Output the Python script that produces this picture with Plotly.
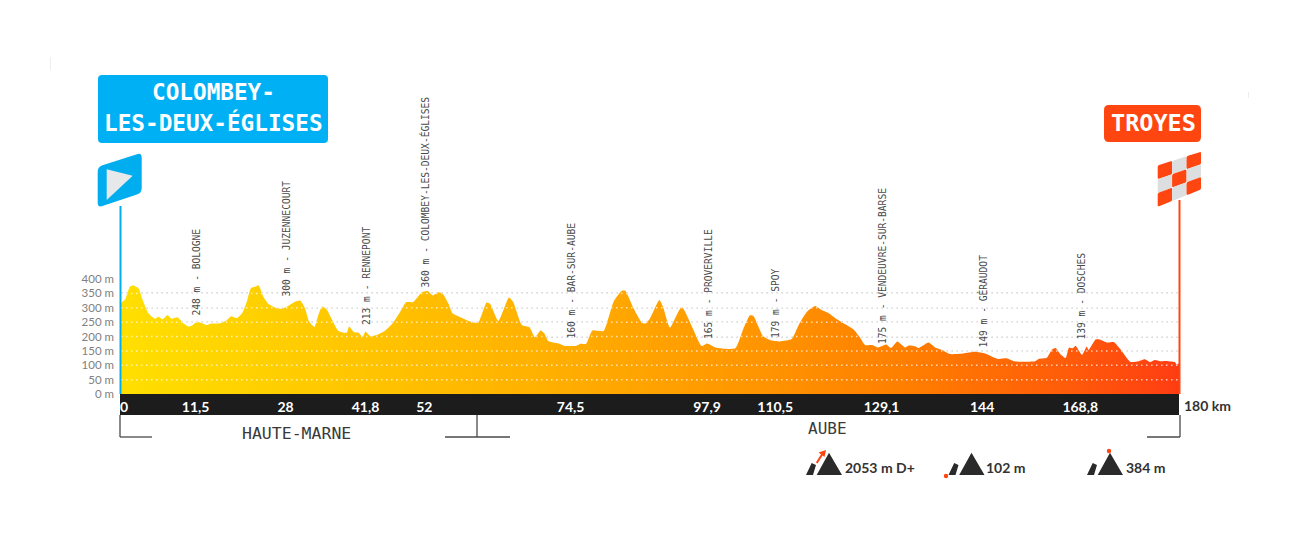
import plotly.graph_objects as go

# ---------- data ----------
km = [0,0.7,1.5,2,2.95,3.8,4.65,5.8,6.35,7.1,7.9,8.6,9.6,10.6,11.45,12,12.75,13.55,14.6,15.4,16.8,17.8,18.7,19.7,20.6,21.4,22.1,22.8,23.4,24.2,25,26.2,27.3,28.5,29.6,30.5,31.3,32,32.9,33.4,34.2,35,35.8,37,38.4,38.8,39.6,40.4,41.1,41.6,42.4,43.5,44.9,46.3,47.5,48.5,49.7,51.2,52.2,53,54,54.7,55.7,56.4,58.2,59.7,60.8,62.2,62.8,64.2,66,66.7,68.2,69.5,70.4,71.4,72,72.7,74.7,75.5,77.5,78.2,79.1,80.2,82.1,83.8,85.2,85.8,87.2,88.6,89.2,90,91.6,92.2,93.4,95.4,98.8,99.7,101.3,104.5,105.9,107,107.6,109.2,110.4,112.1,114.1,115.3,116.7,118.1,119.2,120.4,121.8,124.6,125.7,126.6,127.9,128.8,130.2,131,132.1,133.4,134,135.1,135.7,137.4,138.5,139.7,141,143.3,145.3,147,148.2,149.3,150.7,151.9,153.5,155.5,156.1,157.5,158.4,159,159.8,160.7,161.3,161.9,162.4,163.5,164.3,164.6,165.8,166.5,167.8,168.9,169.9,171.7,173.1,174.2,175.1,175.9,176.8,177.6,179.3,179.6,180]
elevation = [318,329,373,377,368,321,281,262,269,260,275,262,267,246,235,237,250,248,240,245,246,254,270,264,281,321,368,373,378,339,315,301,296,307,321,325,298,252,233,263,304,294,263,219,213,235,216,213,198,217,201,205,220,248,286,319,320,354,358,343,354,350,315,281,263,250,249,318,313,254,336,321,240,232,197,221,211,184,174,167,168,175,174,221,219,321,359,359,298,248,245,263,327,304,231,303,167,176,161,159,228,274,271,202,188,183,191,240,286,306,292,281,260,225,197,170,170,162,172,160,183,162,169,166,160,179,162,153,139,141,147,141,130,122,124,114,112,114,122,126,155,160,139,125,162,159,168,136,165,153,190,190,179,181,159,112,114,121,111,118,114,115,111,102,107]

y_ticks = [0,50,100,150,200,250,300,350,400]
y_labels = ["0 m","50 m","100 m","150 m","200 m","250 m","300 m","350 m","400 m"]
km_labels = ["0","11,5","28","41,8","52","74,5","97,9","110,5","129,1","144","168,8"]
waypoints = ["248 m - BOLOGNE","300 m - JUZENNECOURT","213 m - RENNEPONT","360 m - COLOMBEY-LES-DEUX-ÉGLISES",
             "160 m - BAR-SUR-AUBE","165 m - PROVERVILLE","179 m - SPOY","175 m - VENDEUVRE-SUR-BARSE",
             "149 m - GÉRAUDOT","139 m - DOSCHES"]

# ---------- layout constants ----------
W, H = 1300, 544
X0, X1, Y0, Y400 = 121, 1179, 394, 279
km_label_pos = [0.5,12.7,28,41.6,51.6,76.5,99.7,111.3,129.4,146.5,163.2]
way_px = [(196,316),(285.5,297),(366,325),(424,287),(570.5,339),(708,339),(775,338),(882,344),(982,348),(1081,340)]

def px(x, y):
    return x / W, 1 - y / H

def rpath(pts, r=4):
    """Rounded polygon path in paper coordinates from pixel corners."""
    n, d = len(pts), ""
    for i in range(n):
        p, c, q = pts[i-1], pts[i], pts[(i+1) % n]
        def toward(a, b):
            L = ((b[0]-a[0])**2 + (b[1]-a[1])**2)**0.5
            t = min(r / L, 0.5)
            return a[0] + (b[0]-a[0])*t, a[1] + (b[1]-a[1])*t
        s, e = toward(c, p), toward(c, q)
        ps, pc, pe = px(*s), px(*c), px(*e)
        d += f"{'M' if i == 0 else 'L'}{ps[0]:.5f},{ps[1]:.5f} Q{pc[0]:.5f},{pc[1]:.5f} {pe[0]:.5f},{pe[1]:.5f} "
    return d + "Z"

def poly(pts, color, r=0, layer="above"):
    return dict(type="path", xref="paper", yref="paper", path=rpath(pts, r) if r else rpath(pts, 0.01),
                fillcolor=color, line=dict(width=0), layer=layer)

def seg(x0, y0, x1, y1, color, width):
    a, b = px(x0, y0), px(x1, y1)
    return dict(type="line", xref="paper", yref="paper", x0=a[0], y0=a[1], x1=b[0], y1=b[1],
                line=dict(color=color, width=width), layer="above")

BLUE, RED, DARK, GREY = "#00AEEF", "#FF4510", "#1C1C1C", "#4A4A4A"
shapes = []
# black distance band (below the tick labels)
shapes.append(poly([(120,394),(1179,394),(1179,415),(120,415)], DARK, layer="below"))
# white dots on top of the filled area
for v in y_ticks[1:]:
    shapes.append(dict(type="line", xref="x", yref="y", x0=0, x1=180, y0=v, y1=v, layer="above",
                       line=dict(color="rgba(255,255,255,0.7)", width=1.5, dash="1.5px,3.5px")))
# start and finish posts
shapes.append(seg(120.5,206,120.5,394,BLUE,2))
shapes.append(seg(1179.5,200,1179.5,394,RED,2))
# department brackets
for s in [(120,415,120,437),(120,437,152,437),(477,415,477,437),(445,437,510,437),(1147,437,1180,437),(1180,415,1180,437)]:
    shapes.append(seg(*s, GREY, 1.3))
# name panels
shapes.append(poly([(98,75),(328,75),(328,143),(98,143)], "#00B0F5", 4))
shapes.append(poly([(1104,105),(1201,105),(1201,142),(1104,142)], RED, 5))
# start flag
shapes.append(poly([(97.7,166.7),(141.7,152.7),(141.7,193),(97.7,207.7)], BLUE, 5))
shapes.append(poly([(106.7,169.3),(132.7,175.7),(106.7,200)], "#E6E8EA"))
# finish flag
TL, TR, BR, BL = (1157.7,165.5), (1201,151.7), (1201,189.5), (1157.7,206.7)
def mix(u, v):
    top = (TL[0]+(TR[0]-TL[0])*u, TL[1]+(TR[1]-TL[1])*u)
    bot = (BL[0]+(BR[0]-BL[0])*u, BL[1]+(BR[1]-BL[1])*u)
    return top[0]+(bot[0]-top[0])*v, top[1]+(bot[1]-top[1])*v
for r_ in range(3):
    for c_ in range(3):
        col = RED if (r_ + c_) % 2 == 0 else "#DDDEE0"
        shapes.append(poly([mix(c_/3,r_/3),mix((c_+1)/3,r_/3),mix((c_+1)/3,(r_+1)/3),mix(c_/3,(r_+1)/3)], col, 1.5))
# summary icons
def mountain(dx):
    return [poly([(dx+10.7,475),(dx+23,452.7),(dx+36,475)], "#2A2A2A"),
            poly([(dx,475),(dx+5.7,463),(dx+10,465),(dx+7,475)], "#2A2A2A")]
for dx in (806, 948.5, 1087):
    shapes += mountain(dx)
shapes.append(seg(816.7,463,823,453,RED,2))
shapes.append(poly([(826,450),(818.5,452.5),(824.5,457)], RED))
for cx, cy in ((946,476),(1109,451)):
    a, b = px(cx-2.2, cy-2.2), px(cx+2.2, cy+2.2)
    shapes.append(dict(type="circle", xref="paper", yref="paper", x0=a[0], y0=a[1], x1=b[0], y1=b[1],
                       fillcolor=RED, line=dict(width=0), layer="above"))
# faint registration marks
shapes.append(seg(50.5,57,50.5,70,"#EEEEEE",1))
shapes.append(seg(1248.5,92,1248.5,98,"#EEEEEE",1))

def label(x, y, text, size, color, family, xanchor="center", angle=0, yanchor="middle", weight=None):
    a = px(x, y)
    f = dict(size=size, color=color, family=family)
    if weight:
        f["weight"] = weight
    return dict(xref="paper", yref="paper", x=a[0], y=a[1], text=text, showarrow=False, xanchor=xanchor,
                yanchor=yanchor, textangle=angle, font=f, borderpad=0, borderwidth=0)

annos = []
MONO = "DejaVu Sans Mono"
for t, (x, y) in zip(waypoints, way_px):
    annos.append(label(x, y, t, 9.6, "#4A4A4A", MONO, angle=-90, yanchor="bottom"))
annos.append(label(213, 92, "COLOMBEY-", 22.7, "white", MONO, weight=700))
annos.append(label(213, 123, "LES-DEUX-ÉGLISES", 22.7, "white", MONO, weight=700))
annos.append(label(1153, 123, "TROYES", 23.5, "white", MONO, weight=700))
annos.append(label(296, 433, "HAUTE-MARNE", 16.5, "#3A3A3A", MONO))
annos.append(label(827, 428, "AUBE", 16, "#3A3A3A", MONO))
annos.append(label(1184, 405, "180 km", 14, "#333333", "Lato", xanchor="left", weight=700))
annos.append(label(845, 467, "2053 m D+", 14, "#333333", "Lato", xanchor="left", weight=700))
annos.append(label(986, 467, "102 m", 14, "#333333", "Lato", xanchor="left", weight=700))
annos.append(label(1126, 467, "384 m", 14, "#333333", "Lato", xanchor="left", weight=700))

fig = go.Figure(go.Scatter(
    x=km, y=elevation, mode="lines", line=dict(width=0, shape="spline", smoothing=0.5), fill="tozeroy",
    fillgradient=dict(type="horizontal", colorscale=[[0,"#FFDF00"],[0.2,"#FFC800"],[0.4,"#FFB000"],
                                                     [0.6,"#FF9500"],[0.75,"#FF7D00"],[0.9,"#FF5A0A"],[1,"#FF3C12"]]),
    hoverinfo="skip", showlegend=False))

fig.update_layout(
    width=W, height=H, margin=dict(l=0, r=0, t=0, b=0, autoexpand=False),
    paper_bgcolor="white", plot_bgcolor="rgba(0,0,0,0)", showlegend=False,
    xaxis=dict(domain=[X0/W, X1/W], range=[0,180], showgrid=False, zeroline=False, showline=False,
               tickmode="array", tickvals=km_label_pos, ticktext=km_labels, ticks="", ticklabelstandoff=3,
               tickfont=dict(family="Lato", size=14, color="white", weight=700), tickangle=0),
    yaxis=dict(domain=[1-Y0/H, 1-Y400/H], range=[0,400], zeroline=False, showline=False,
               tickmode="array", tickvals=y_ticks, ticktext=y_labels, ticks="", ticklabelstandoff=6,
               gridcolor="#DADADA", griddash="1.5px,3.5px", gridwidth=1.5,
               tickfont=dict(family="Lato", size=11.5, color="#7F7F7F")),
    shapes=shapes, annotations=annos,
)
fig.write_html("out.html", config={"displayModeBar": False},
               post_script="document.body.style.margin='0';")
